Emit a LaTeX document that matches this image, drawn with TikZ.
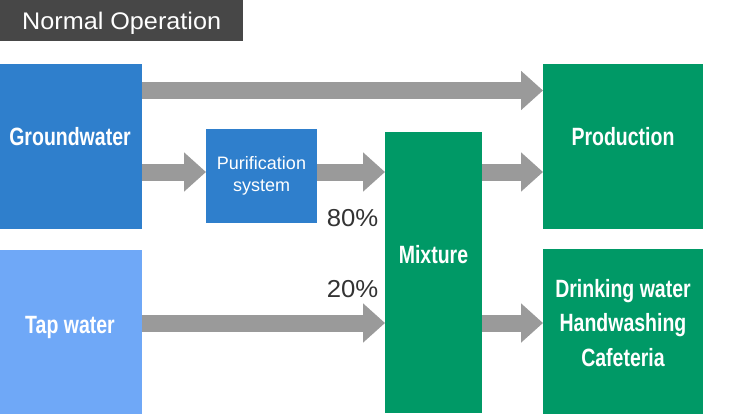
\documentclass[tikz,border=0pt]{standalone}
\usepackage{fontspec}
\setmainfont{Liberation Sans}
\newfontfamily\condfont[FakeStretch=0.78]{Liberation Sans Bold}
\newfontfamily\widefont[FakeStretch=1.05]{Liberation Sans}
\usetikzlibrary{arrows.meta,calc}
\definecolor{titlebg}{HTML}{474747}
\definecolor{bluebox}{HTML}{2F7FCC}
\definecolor{lightblue}{HTML}{6FA8F7}
\definecolor{greenbox}{HTML}{009966}
\definecolor{arrowgray}{HTML}{9A9A9A}
\definecolor{pcttext}{HTML}{333333}
\tikzset{
  box/.style={draw=none, inner sep=0pt, outer sep=0pt, anchor=north west},
  boxtext/.style={text=white, align=center, inner sep=0pt, anchor=base,
    font=\condfont\fontsize{25}{34.5}\selectfont},
  flow/.style={draw=arrowgray, line width=17pt,
    -{Triangle[length=22pt,width=38pt,fill=arrowgray]}},
  pct/.style={text=pcttext, font=\widefont\fontsize{24.5}{28}\selectfont, inner sep=0pt, anchor=base east}
}
\begin{document}
\begin{tikzpicture}[x=1pt,y=-1pt]
\useasboundingbox (0,0) rectangle (730,418);
% title
\node[fill=titlebg, minimum width=243pt, minimum height=41pt, inner sep=0pt, anchor=north west] (title) at (0,0) {};
\node[text=white, font=\widefont\fontsize{24}{26}\selectfont, inner sep=0pt, anchor=base west] (titletext) at (22,29) {Normal Operation};
% boxes
\node[box, fill=bluebox, minimum width=142pt, minimum height=165pt] (gw) at (0,64) {};
\node[box, fill=lightblue, minimum width=142pt, minimum height=164pt] (tap) at (0,250) {};
\node[box, fill=bluebox, minimum width=111pt, minimum height=94pt] (pur) at (206,129) {};
\node[box, fill=greenbox, minimum width=97pt, minimum height=281pt] (mix) at (385,132) {};
\node[box, fill=greenbox, minimum width=160pt, minimum height=165pt] (prod) at (543,64) {};
\node[box, fill=greenbox, minimum width=160pt, minimum height=165pt] (drink) at (543,249) {};
% box texts
\node[boxtext] (gwt) at (70,145) {Groundwater};
\node[boxtext] (tapt) at (70,333) {Tap water};
\node[boxtext, font=\fontsize{18}{22}\selectfont, anchor=center] (purt) at (261.5,176) {Purification\\system};
\node[boxtext] (mixt) at (433.5,263) {Mixture};
\node[boxtext] (prodt) at (623,145.5) {Production};
\node[boxtext] (drinkt) at (623,366) {Drinking water\\Handwashing\\Cafeteria};
% arrows
\draw[flow] ([yshift=-26.5pt]gw.north east) -- ([yshift=-26.5pt]prod.north west);
\draw[flow] ([yshift=-25.5pt]gw.east) -- ([yshift=-25.5pt]gw.east -| pur.west);
\draw[flow] ([yshift=-25.5pt]gw.east -| pur.east) -- ([yshift=-25.5pt]gw.east -| mix.west);
\draw[flow] ([yshift=-25.5pt]gw.east -| mix.east) -- ([yshift=-25.5pt]gw.east -| prod.west);
\draw[flow] ([yshift=9pt]tap.east) -- ([yshift=9pt]tap.east -| mix.west);
\draw[flow] ([yshift=9pt]tap.east -| mix.east) -- ([yshift=9pt]tap.east -| drink.west);
% percentages
\node[pct] (p80) at (378.5,226) {80\%};
\node[pct] (p20) at (378.5,297.5) {20\%};
\end{tikzpicture}
\end{document}
